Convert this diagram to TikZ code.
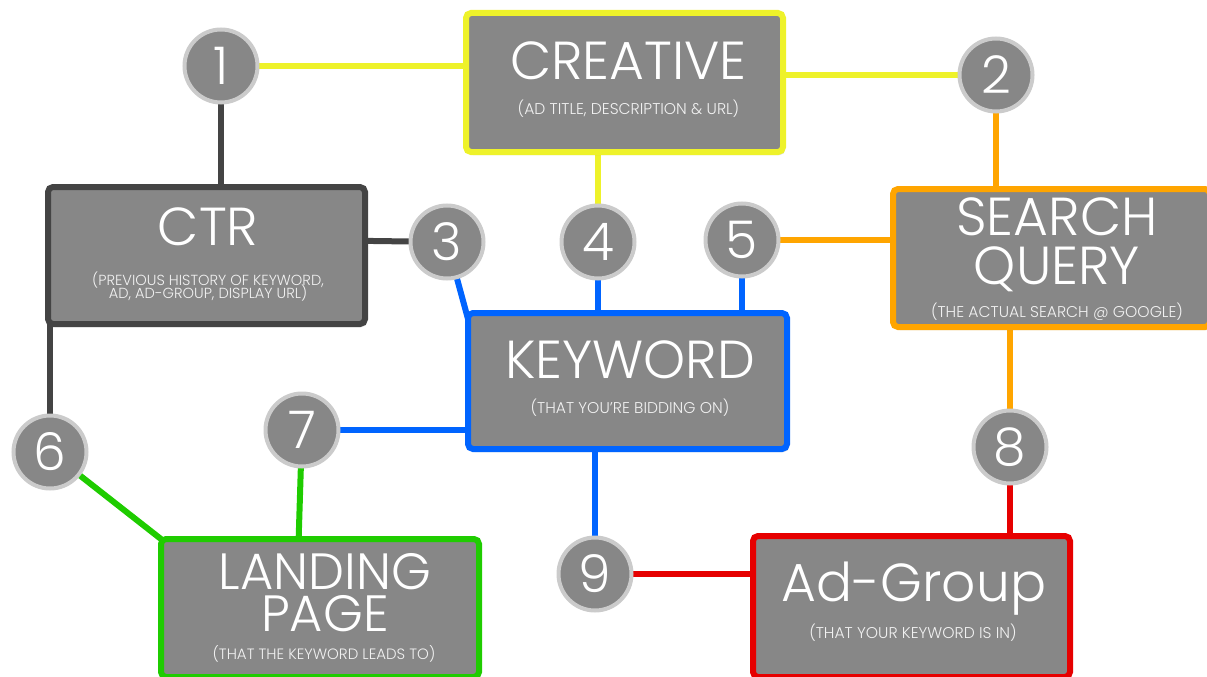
\documentclass[tikz,border=0pt]{standalone}
\usepackage{fontspec}
\IfFontExistsTF{Poppins Light}{\setmainfont{Poppins Light}}{\setmainfont{Poppins}}
\usetikzlibrary{shadows}
\definecolor{boxgray}{HTML}{878787}
\definecolor{ringgray}{HTML}{CBCBCB}
\definecolor{cyel}{HTML}{EEF22A}
\definecolor{cdark}{HTML}{444444}
\definecolor{corange}{HTML}{FFA500}
\definecolor{cblue}{HTML}{0064FF}
\definecolor{cgreen}{HTML}{1FCC00}
\definecolor{cred}{HTML}{E60000}
\tikzset{
  box/.style={draw=#1, line width=6pt, fill=boxgray, rounded corners=5pt,
    drop shadow={shadow xshift=2pt, shadow yshift=-3pt, opacity=0.25}},
  num/.style={circle, draw=ringgray, line width=4pt, fill=boxgray,
    minimum size=73pt, inner sep=0pt, text=white,
    font=\fontsize{52}{52}\selectfont},
  title/.style={text=white, anchor=base, inner sep=0pt,
    text height=38pt, text depth=0pt,
    font=\fontsize{53.5}{54}\selectfont},
  sub/.style={text=white!88!boxgray, anchor=base, inner sep=0pt,
    text height=11pt, text depth=2pt,
    font=\fontsize{15.6}{16}\selectfont},
  wire/.style={line width=6pt, draw=#1},
}
\begin{document}
\begin{tikzpicture}[x=1pt, y=-1pt]
\useasboundingbox (0,0) rectangle (1207,677);
\clip (0,0) rectangle (1207,677);

% circle centres
\coordinate (c1) at (221,66);
\coordinate (c2) at (996,75);
\coordinate (c3) at (447,242);
\coordinate (c4) at (598,242);
\coordinate (c5) at (742,240);
\coordinate (c6) at (50,452);
\coordinate (c7) at (302,430);
\coordinate (c8) at (1010,447);
\coordinate (c9) at (595,574);

% connectors, drawn first so boxes and circles cover their ends
\draw[wire=cyel] (c1) -- (520,66);
\draw[wire=cyel] (700,75) -- (c2);
\draw[wire=cyel] (598,100) -- (c4);
\draw[wire=cdark] (c1) -- (221,220);
\draw[wire=cdark] (300,240) -- (c3);
\draw[wire=cdark] (50,300) -- (c6);
\draw[wire=corange] (c2) -- (996,220);
\draw[wire=corange] (c5) -- (930,240);
\draw[wire=corange] (1010,300) -- (c8);
\draw[wire=cblue] (c3) -- (471,330);
\draw[wire=cblue] (c4) -- (598,340);
\draw[wire=cblue] (c5) -- (742,340);
\draw[wire=cblue] (c7) -- (520,430);
\draw[wire=cblue] (595,420) -- (c9);
\draw[wire=cgreen] (c6) -- (175,550);
\draw[wire=cgreen] (c7) -- (298,560);
\draw[wire=cred] (c8) -- (1010,560);
\draw[wire=cred] (c9) -- (800,574);

% boxes
\node[box=cyel, minimum width=317pt, minimum height=139pt] (creative) at (624.5,82.5) {};
\node[box=cdark, minimum width=317pt, minimum height=137pt] (ctr) at (206.5,255.5) {};
\node[box=corange, minimum width=317pt, minimum height=138pt] (search) at (1051.5,258) {};
\node[box=cblue, minimum width=319pt, minimum height=136pt] (keyword) at (627.5,381) {};
\node[box=cgreen, minimum width=318pt, minimum height=138pt] (landing) at (320,608) {};
\node[box=cred, minimum width=317pt, minimum height=141pt] (adgroup) at (911.5,606.5) {};

% box texts, placed on their baselines
\node[title] (creativeT) at (628.5,80) {CREATIVE};
\node[sub] (creativeS) at (628.5,114) {(AD TITLE, DESCRIPTION \& URL)};
\node[title] (ctrT) at (208,245) {CTR};
\node[sub, font=\fontsize{14.6}{15}\selectfont] (ctrS1) at (208,285) {(PREVIOUS HISTORY OF KEYWORD,};
\node[sub, font=\fontsize{14.6}{15}\selectfont] (ctrS2) at (208,298) {AD, AD-GROUP, DISPLAY URL)};
\node[title] (searchT1) at (1057,235) {SEARCH};
\node[title] (searchT2) at (1057,284) {QUERY};
\node[sub] (searchS) at (1057,317) {(THE ACTUAL SEARCH @ GOOGLE)};
\node[title] (keywordT) at (630,378) {KEYWORD};
\node[sub] (keywordS) at (630,413) {(THAT YOU'RE BIDDING ON)};
\node[title, font=\fontsize{51}{52}\selectfont] (landingT1) at (325,589) {LANDING};
\node[title, font=\fontsize{51}{52}\selectfont] (landingT2) at (325,631) {PAGE};
\node[sub, font=\fontsize{15}{16}\selectfont] (landingS) at (324,659) {(THAT THE KEYWORD LEADS TO)};
\node[title] (adgroupT) at (914,601) {Ad-Group};
\node[sub] (adgroupS) at (913,638) {(THAT YOUR KEYWORD IS IN)};

% numbered circles
\node[num] (n1) at (c1) {1};
\node[num] (n2) at (c2) {2};
\node[num] (n3) at (c3) {3};
\node[num] (n4) at (c4) {4};
\node[num] (n5) at (c5) {5};
\node[num] (n6) at (c6) {6};
\node[num] (n7) at (c7) {7};
\node[num] (n8) at (c8) {8};
\node[num] (n9) at (c9) {9};
\end{tikzpicture}
\end{document}
